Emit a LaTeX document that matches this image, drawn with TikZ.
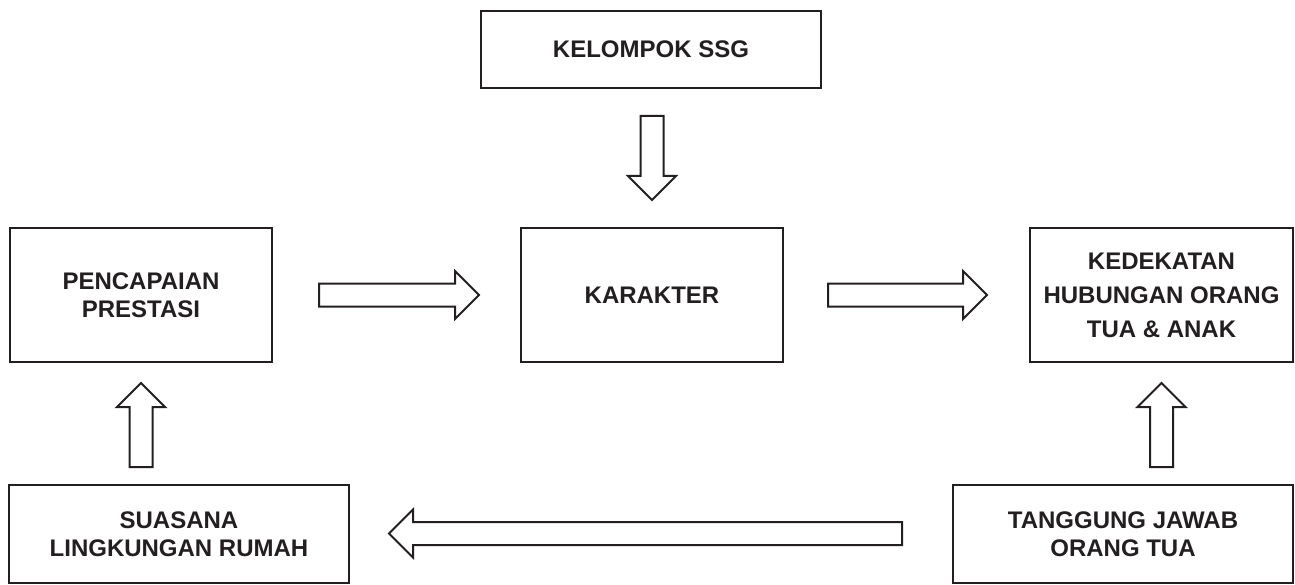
\documentclass[tikz,border=0pt]{standalone}
\usepackage{fontspec}
\setmainfont{Liberation Sans}
\usetikzlibrary{calc}
\definecolor{ink}{HTML}{231F20}
\tikzset{
  x=1pt, y=-1pt,
  box/.style={draw=ink, line width=2.8pt, rectangle, align=center, text=ink,
    font=\fontsize{24}{28}\selectfont\bfseries, inner sep=0pt, outer sep=0pt},
  arrowline/.style={draw=ink, fill=white, line width=2pt, line join=miter},
  pics/blockarrow/.style={code={
    \draw[arrowline] (0,-11.5) -- (#1-24,-11.5) -- (#1-24,-24) -- (#1,0)
      -- (#1-24,24) -- (#1-24,11.5) -- (0,11.5) -- cycle;
  }}
}
\begin{document}
\begin{tikzpicture}
\useasboundingbox[fill=white] (0,0) rectangle (1295,585);

% boxes
\node[box, minimum width=340, minimum height=77] (ssg) at (651,49.5) {KELOMPOK SSG};
\node[box, minimum width=262, minimum height=134] (pp) at (141,295) {PENCAPAIAN\\PRESTASI};
\node[box, minimum width=262, minimum height=134] (kar) at (652,295) {KARAKTER};
\node[box, minimum width=263, minimum height=134,
      font=\fontsize{24}{34}\selectfont\bfseries] (ked) at (1161.5,295)
      {KEDEKATAN\\HUBUNGAN ORANG\\TUA \& ANAK};
\node[box, minimum width=340, minimum height=98] (sua) at (179,534) {SUASANA\\LINGKUNGAN RUMAH};
\node[box, minimum width=340, minimum height=98] (tj) at (1123,534) {TANGGUNG JAWAB\\ORANG TUA};

% block arrows between the boxes
\pic[rotate=-90] at ($(ssg.south)+(1,28)$) {blockarrow=84};
\pic at ($(pp.east)+(47,0)$) {blockarrow=160};
\pic at ($(kar.east)+(45,0)$) {blockarrow=159};
\pic[rotate=90] at ($(pp.south)+(0,105)$) {blockarrow=84};
\pic[rotate=90] at ($(ked.south)+(0,105)$) {blockarrow=84};
\pic[rotate=180] at ($(tj.west)+(-51,-0.5)$) {blockarrow=513};
\end{tikzpicture}
\end{document}
